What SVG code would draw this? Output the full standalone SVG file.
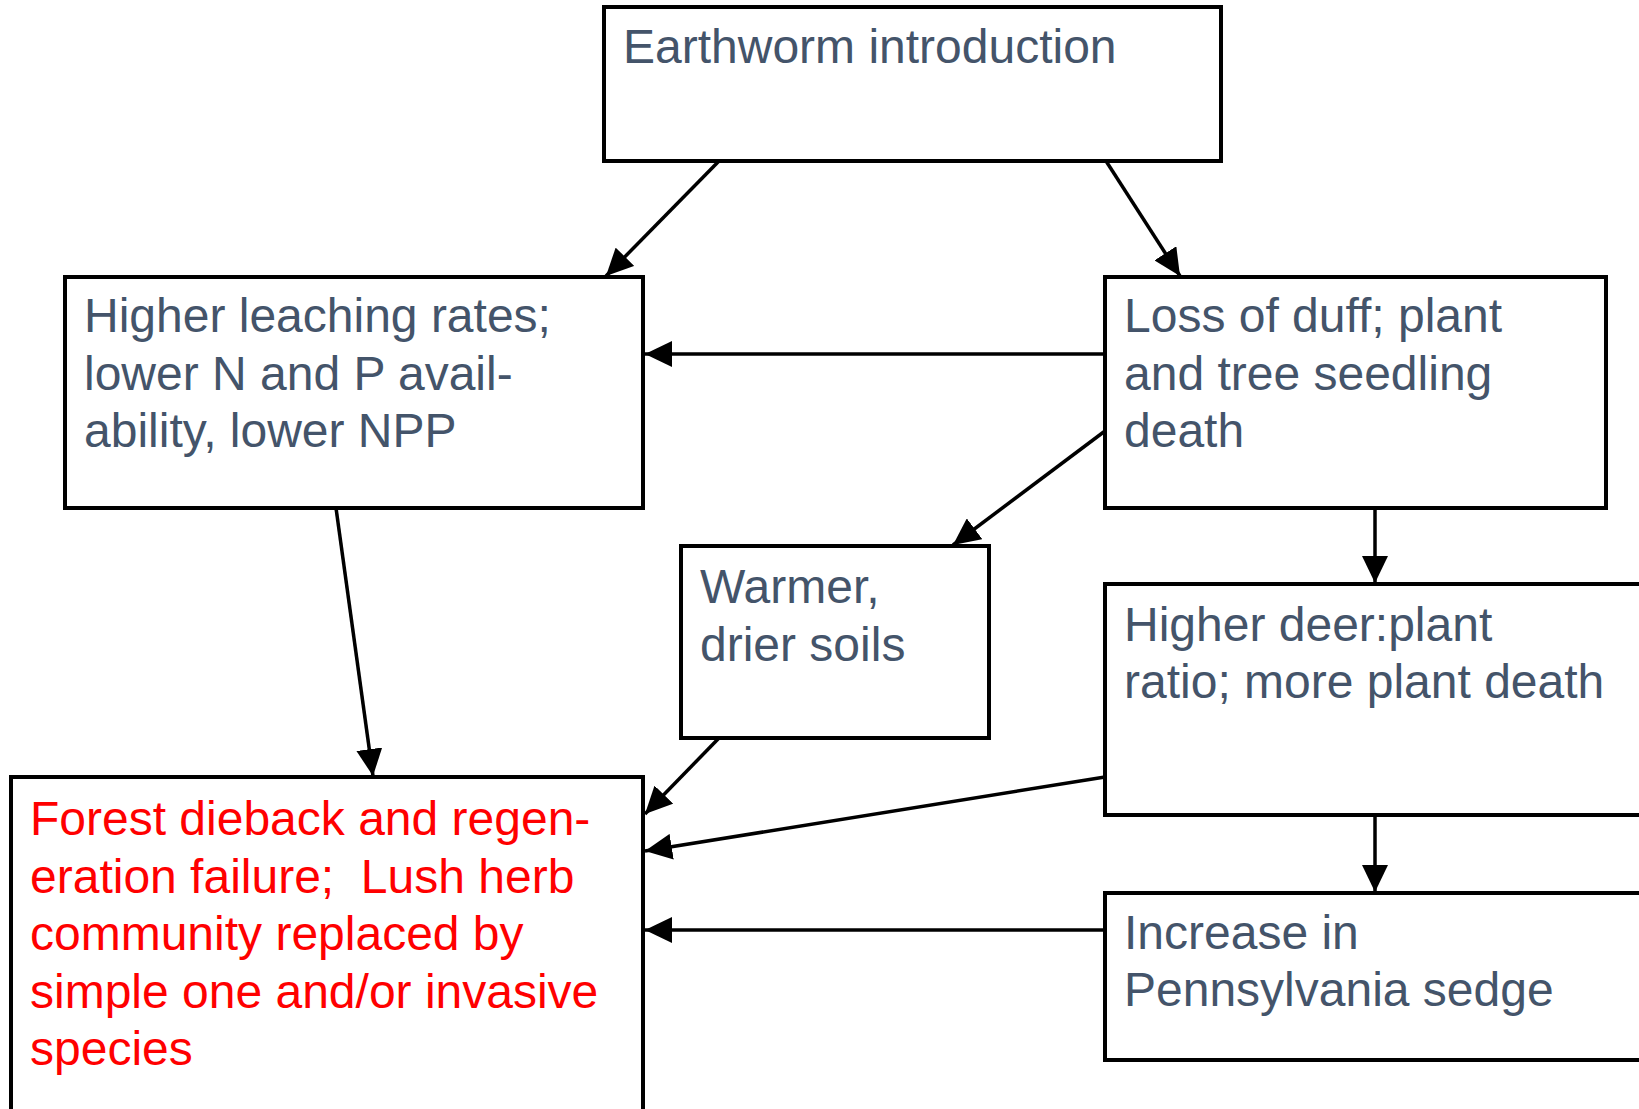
<svg xmlns="http://www.w3.org/2000/svg" width="1639" height="1109" viewBox="0 0 1639 1109">
<defs>
<style>
.box{fill:#ffffff;stroke:#000000;stroke-width:4}
.t{font-family:"Liberation Sans",Arial,sans-serif;font-size:48px;fill:#44546a}
.r{font-family:"Liberation Sans",Arial,sans-serif;font-size:48px;fill:#ff0000;white-space:pre}
.c{stroke:#000000;stroke-width:3.5;fill:none;marker-end:url(#ah)}
</style>
<marker id="ah" markerUnits="userSpaceOnUse" markerWidth="28" markerHeight="26" viewBox="0 0 28 26" refX="27" refY="13" orient="auto">
<path d="M0,0 L27,13 L0,26 z" fill="#000000"/>
</marker>
</defs>
<rect width="1639" height="1109" fill="#ffffff"/>
<g id="earthworm">
<rect class="box" x="604" y="7" width="617" height="154"/>
<text class="t" x="623" y="63">Earthworm introduction</text>
</g>
<g id="leaching">
<rect class="box" x="65" y="277" width="578" height="231"/>
<text class="t" x="84" y="332">Higher leaching rates;</text>
<text class="t" x="84" y="390">lower N and P avail-</text>
<text class="t" x="84" y="447">ability, lower NPP</text>
</g>
<g id="duff">
<rect class="box" x="1105" y="277" width="501" height="231"/>
<text class="t" x="1124" y="332">Loss of duff; plant</text>
<text class="t" x="1124" y="390">and tree seedling</text>
<text class="t" x="1124" y="447">death</text>
</g>
<g id="warmer">
<rect class="box" x="681" y="546" width="308" height="192"/>
<text class="t" x="700" y="603">Warmer,</text>
<text class="t" x="700" y="661">drier soils</text>
</g>
<g id="deer">
<rect class="box" x="1105" y="584" width="560" height="231"/>
<text class="t" x="1124" y="641">Higher deer:plant</text>
<text class="t" x="1124" y="698">ratio; more plant death</text>
</g>
<g id="sedge">
<rect class="box" x="1105" y="893" width="560" height="167"/>
<text class="t" x="1124" y="949">Increase in</text>
<text class="t" x="1124" y="1006">Pennsylvania sedge</text>
</g>
<g id="forest">
<rect class="box" x="11" y="777" width="632" height="360"/>
<text class="r" x="30" y="835">Forest dieback and regen-</text>
<text class="r" x="30" y="893" xml:space="preserve">eration failure;  Lush herb</text>
<text class="r" x="30" y="950">community replaced by</text>
<text class="r" x="30" y="1008">simple one and/or invasive</text>
<text class="r" x="30" y="1065">species</text>
</g>
<g id="connectors">
<line class="c" x1="719" y1="161" x2="606" y2="276"/>
<line class="c" x1="1106" y1="161" x2="1180" y2="276"/>
<line class="c" x1="1105" y1="354" x2="645" y2="354"/>
<line class="c" x1="1105" y1="431" x2="953" y2="545"/>
<line class="c" x1="1375" y1="508" x2="1375" y2="583"/>
<line class="c" x1="336" y1="508" x2="373" y2="776"/>
<line class="c" x1="719" y1="738" x2="645" y2="814"/>
<line class="c" x1="1105" y1="777" x2="645" y2="851"/>
<line class="c" x1="1375" y1="815" x2="1375" y2="892"/>
<line class="c" x1="1105" y1="930" x2="645" y2="930"/>
</g>
</svg>
